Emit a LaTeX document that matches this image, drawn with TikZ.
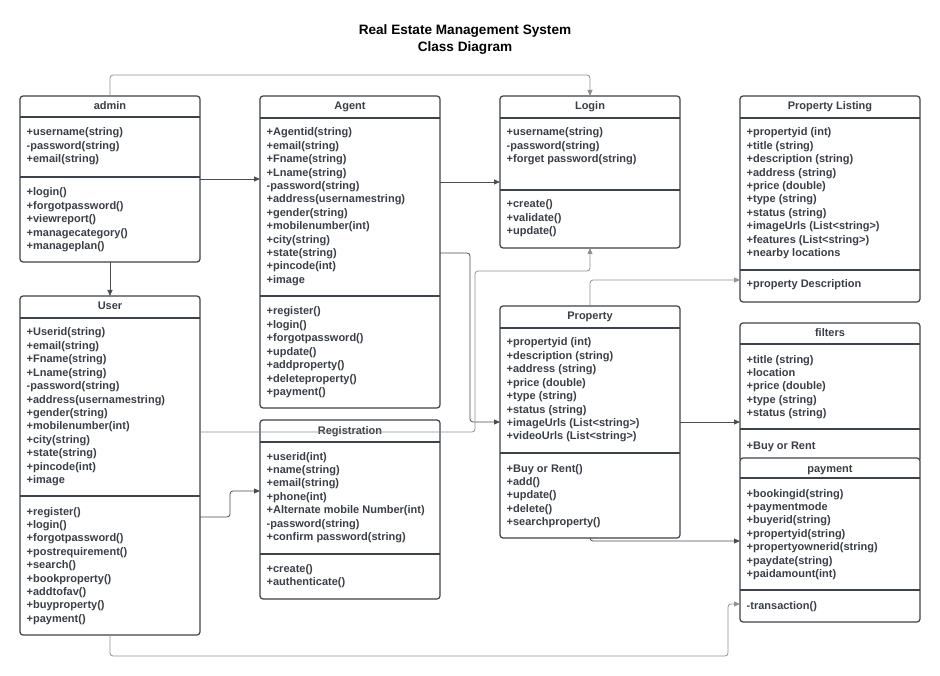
\documentclass[tikz,border=0pt]{standalone}
\usepackage{fontspec}
\setmainfont{Liberation Sans}
\usetikzlibrary{arrows.meta}
\definecolor{ink}{HTML}{3A3F47}
\definecolor{edge}{HTML}{3D434B}
\definecolor{wire}{HTML}{4A4F57}
\definecolor{wirelight}{HTML}{8E9196}
\tikzset{
 cls/.style={draw=edge, line width=1.2pt, rounded corners=3pt, fill=white, inner sep=0pt, outer sep=0pt},
 sepline/.style={draw=edge, line width=1.2pt},
 txt/.style={font=\fontsize{11}{13.4}\selectfont\bfseries, text=ink, inner sep=0pt},
 head/.style={txt, anchor=base},
 conn/.style={draw=wire, line width=0.8pt, rounded corners=3pt, -{Triangle[length=6pt,width=5pt]}},
 connlight/.style={conn, draw=wirelight},
 ttl/.style={font=\fontsize{13.6}{16}\selectfont\bfseries, text=black, inner sep=0pt, anchor=base},
}
% #1 name, #2 x1, #3 y1, #4 x2, #5 y2, #6 sep1, #7 sep2, #8 title
\newcommand\umlclass[8]{%
 \node[cls, minimum width={#4-#2}, minimum height={#5-#3}] (#1) at ({(#2+#4)/2},{(#3+#5)/2}) {};
 \draw[sepline] (#1.west |- 0,#6) -- (#1.east |- 0,#6);
 \draw[sepline] (#1.west |- 0,#7) -- (#1.east |- 0,#7);
 \node[head] (#1-title) at ({(#2+#4)/2},{#3+14}) {#8};
}
% #1 prefix, #2 x, #3 y of first line centre, #4 list
\newcommand\umllines[4]{%
 \foreach \t [count=\i] in {#4} {\node[txt, anchor=base west] (#1-\i) at (#2,{#3+4+(\i-1)*13.4}) {\t};}
}
\begin{document}
\begin{tikzpicture}[x=1pt,y=-1pt]
\fill[white] (0,0) rectangle (940,676);
\useasboundingbox (0,0) rectangle (940,676);

\node[ttl] (title1) at (465,35) {Real Estate Management System};
\node[ttl] (title2) at (465,51.5) {Class Diagram};

% admin
\umlclass{admin}{20}{96}{200}{262}{117}{177}{admin}
\umllines{admin-a}{26.5}{132}{+username(string),-password(string),+email(string)}
\umllines{admin-m}{26.5}{192}{+login(),+forgotpassword(),+viewreport(),+managecategory(),+manageplan()}

% Agent
\umlclass{agent}{260}{96}{440}{408}{118}{296}{Agent}
\umllines{agent-a}{266.5}{132}{+Agentid(string),+email(string),+Fname(string),+Lname(string),-password(string),+address(usernamestring),+gender(string),+mobilenumber(int),+city(string),+state(string),+pincode(int),+image}
\umllines{agent-m}{266.5}{311}{+register(),+login(),+forgotpassword(),+update(),+addproperty(),+deleteproperty(),+payment()}

% Login
\umlclass{login}{500}{96}{680}{248}{118}{190}{Login}
\umllines{login-a}{506.5}{132}{+username(string),-password(string),+forget password(string)}
\umllines{login-m}{506.5}{204}{+create(),+validate(),+update()}

% Property Listing
\umlclass{plisting}{740}{96}{920}{302}{118}{270}{Property Listing}
\umllines{plisting-a}{746.5}{132}{+propertyid (int),+title (string),+description (string),+address (string),+price (double),+type (string),+status (string),+imageUrls (List<string>),+features (List<string>),+nearby locations}
\umllines{plisting-m}{746.5}{284}{+property Description}

% User
\umlclass{user}{20}{296}{200}{635}{318}{496}{User}
\umllines{user-a}{26.5}{332}{+Userid(string),+email(string),+Fname(string),+Lname(string),-password(string),+address(usernamestring),+gender(string),+mobilenumber(int),+city(string),+state(string),+pincode(int),+image}
\umllines{user-m}{26.5}{511}{+register(),+login(),+forgotpassword(),+postrequirement(),+search(),+bookproperty(),+addtofav(),+buyproperty(),+payment()}

% Registration
\umlclass{registration}{260}{420}{440}{599}{442}{554}{Registration}
\umllines{registration-a}{266.5}{456}{+userid(int),+name(string),+email(string),+phone(int),+Alternate mobile Number(int),-password(string),+confirm password(string)}
\umllines{registration-m}{266.5}{568}{+create(),+authenticate()}

% Property
\umlclass{property}{500}{306}{680}{538}{328}{453}{Property}
\umllines{property-a}{506.5}{342}{+propertyid (int),+description (string),+address (string),+price (double),+type (string),+status (string),+imageUrls (List<string>),+videoUrls (List<string>)}
\umllines{property-m}{506.5}{468}{+Buy or Rent(),+add(),+update(),+delete(),+searchproperty()}

% filters
\umlclass{filters}{740}{323}{920}{462}{344}{429}{filters}
\umllines{filters-a}{746.5}{359}{+title (string),+location,+price (double),+type (string),+status (string)}
\umllines{filters-m}{746.5}{445}{+Buy or Rent}

% payment
\umlclass{payment}{740}{458}{920}{622}{478}{590}{payment}
\umllines{payment-a}{746.5}{493}{+bookingid(string),+paymentmode,+buyerid(string),+propertyid(string),+propertyownerid(string),+paydate(string),+paidamount(int)}
\umllines{payment-m}{746.5}{605}{-transaction()}

% connectors
\draw[connlight] (admin.north) |- (login.north |- 0,75) -- (login.north);
\draw[conn] (admin.east |- 0,179) -- (agent.west |- 0,179);
\draw[conn] (admin.south) -- (user.north);
\draw[conn] (agent.east |- 0,182) -- (login.west |- 0,182);
\draw[conn] (agent.east |- 0,253) -| (470,422) -- (property.west |- 0,422);
\draw[connlight] (user.east |- 0,432) -| (475,271) -| (login.south);
\draw[conn] (user.east |- 0,517) -| (230,491) -- (registration.west |- 0,491);
\draw[connlight] (property.north) |- (plisting.west |- 0,280);
\draw[conn] (property.east |- 0,422) -- (filters.west |- 0,422);
\draw[conn] (property.south) |- (payment.west |- 0,541);
\draw[connlight] (user.south) |- (728,656) |- (payment.west |- 0,604);
\end{tikzpicture}
\end{document}
